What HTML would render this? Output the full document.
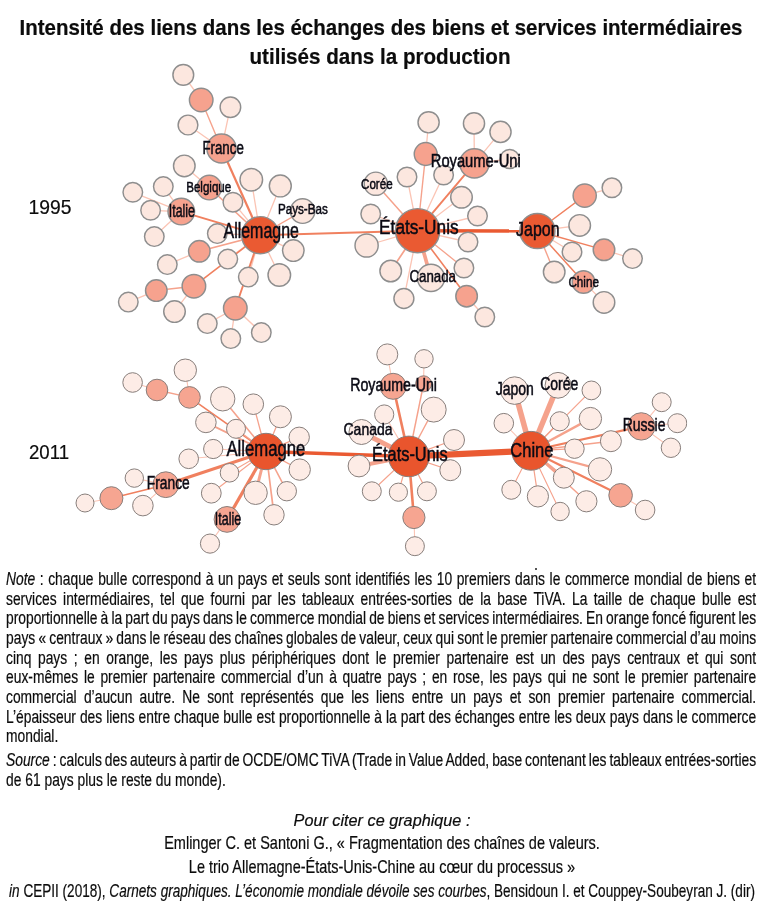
<!DOCTYPE html>
<html lang="fr"><head><meta charset="utf-8"><title>Intensité des liens</title>
<style>
html,body{margin:0;padding:0;background:#fff}
#p{position:relative;width:767px;height:913px;overflow:hidden;background:#fff;font-family:"Liberation Sans",sans-serif;color:#0c0c0c;-webkit-text-stroke:0.2px #0c0c0c}
.l{position:absolute;white-space:nowrap;transform-origin:0 0}
.c{position:absolute;white-space:nowrap;transform-origin:50% 0;text-align:center}
</style></head><body><div id="p">
<svg width="767" height="913" viewBox="0 0 767 913" style="position:absolute;left:0;top:0;filter:blur(0.4px)">
<g>
<line x1="183.3" y1="74.89999999999999" x2="201.20000000000002" y2="100.0" stroke="#fbc4b4" stroke-width="1.3"/>
<line x1="201.20000000000002" y1="100.0" x2="221.5" y2="148.5" stroke="#f5a28c" stroke-width="1.4"/>
<line x1="230.4" y1="107.19999999999999" x2="221.5" y2="148.5" stroke="#fbc4b4" stroke-width="1.3"/>
<line x1="188.0" y1="125.0" x2="221.5" y2="148.5" stroke="#fbc4b4" stroke-width="1.3"/>
<line x1="221.5" y1="148.5" x2="260.3" y2="235.2" stroke="#f0805f" stroke-width="2.2"/>
<line x1="184.3" y1="165.9" x2="209.3" y2="187.6" stroke="#fbc4b4" stroke-width="1.3"/>
<line x1="209.3" y1="187.6" x2="260.3" y2="235.2" stroke="#f5a28c" stroke-width="1.5"/>
<line x1="251.3" y1="179.79999999999998" x2="260.3" y2="235.2" stroke="#fbc4b4" stroke-width="1.3"/>
<line x1="280.3" y1="185.9" x2="260.3" y2="235.2" stroke="#fbc4b4" stroke-width="1.3"/>
<line x1="132.8" y1="192.29999999999998" x2="181.3" y2="211.6" stroke="#fbc4b4" stroke-width="1.3"/>
<line x1="163.3" y1="186.6" x2="181.3" y2="211.6" stroke="#fbc4b4" stroke-width="1.3"/>
<line x1="150.60000000000002" y1="210.29999999999998" x2="181.3" y2="211.6" stroke="#fbc4b4" stroke-width="1.3"/>
<line x1="154.3" y1="236.6" x2="181.3" y2="211.6" stroke="#fbc4b4" stroke-width="1.3"/>
<line x1="181.3" y1="211.6" x2="260.3" y2="235.2" stroke="#f0805f" stroke-width="1.8"/>
<line x1="232.9" y1="202.2" x2="260.3" y2="235.2" stroke="#fbc4b4" stroke-width="1.3"/>
<line x1="302.6" y1="211.1" x2="260.3" y2="235.2" stroke="#f5a28c" stroke-width="1.3"/>
<line x1="217.3" y1="233.6" x2="260.3" y2="235.2" stroke="#fbc4b4" stroke-width="1.3"/>
<line x1="199.3" y1="251.29999999999998" x2="260.3" y2="235.2" stroke="#f5a28c" stroke-width="1.6"/>
<line x1="167.3" y1="264.6" x2="199.3" y2="251.29999999999998" stroke="#fbc4b4" stroke-width="1.3"/>
<line x1="293.3" y1="250.6" x2="260.3" y2="235.2" stroke="#fbc4b4" stroke-width="1.3"/>
<line x1="227.8" y1="259.1" x2="260.3" y2="235.2" stroke="#fbc4b4" stroke-width="1.3"/>
<line x1="193.9" y1="286.20000000000005" x2="260.3" y2="235.2" stroke="#f0805f" stroke-width="1.6"/>
<line x1="248.3" y1="277.1" x2="260.3" y2="235.2" stroke="#fbc4b4" stroke-width="1.3"/>
<line x1="279.3" y1="275.0" x2="260.3" y2="235.2" stroke="#fbc4b4" stroke-width="1.3"/>
<line x1="235.3" y1="308.20000000000005" x2="260.3" y2="235.2" stroke="#f0805f" stroke-width="1.9"/>
<line x1="156.3" y1="290.6" x2="193.9" y2="286.20000000000005" stroke="#f5a28c" stroke-width="1.5"/>
<line x1="128.3" y1="302.1" x2="156.3" y2="290.6" stroke="#fbc4b4" stroke-width="1.3"/>
<line x1="174.5" y1="311.6" x2="193.9" y2="286.20000000000005" stroke="#fbc4b4" stroke-width="1.3"/>
<line x1="207.3" y1="323.6" x2="235.3" y2="308.20000000000005" stroke="#fbc4b4" stroke-width="1.3"/>
<line x1="261.3" y1="332.6" x2="235.3" y2="308.20000000000005" stroke="#fbc4b4" stroke-width="1.3"/>
<line x1="230.8" y1="338.6" x2="235.3" y2="308.20000000000005" stroke="#fbc4b4" stroke-width="1.3"/>
<line x1="428.6" y1="122.3" x2="425.7" y2="154" stroke="#fbc4b4" stroke-width="1.3"/>
<line x1="425.7" y1="154" x2="417.6" y2="230.7" stroke="#f5a28c" stroke-width="1.4"/>
<line x1="474" y1="123.4" x2="474.4" y2="163.4" stroke="#fbc4b4" stroke-width="1.3"/>
<line x1="500.5" y1="131.9" x2="474.4" y2="163.4" stroke="#fbc4b4" stroke-width="1.3"/>
<line x1="509.7" y1="159" x2="474.4" y2="163.4" stroke="#fbc4b4" stroke-width="1.3"/>
<line x1="474.4" y1="163.4" x2="417.6" y2="230.7" stroke="#f0805f" stroke-width="1.9"/>
<line x1="407" y1="177" x2="417.6" y2="230.7" stroke="#fbc4b4" stroke-width="1.3"/>
<line x1="443.6" y1="175" x2="417.6" y2="230.7" stroke="#fbc4b4" stroke-width="1.3"/>
<line x1="375.8" y1="183.7" x2="417.6" y2="230.7" stroke="#f5a28c" stroke-width="1.5"/>
<line x1="461.5" y1="197.3" x2="417.6" y2="230.7" stroke="#fbc4b4" stroke-width="1.3"/>
<line x1="370.7" y1="214" x2="417.6" y2="230.7" stroke="#fbc4b4" stroke-width="1.3"/>
<line x1="477.5" y1="216" x2="417.6" y2="230.7" stroke="#fbc4b4" stroke-width="1.3"/>
<line x1="366.6" y1="245.5" x2="417.6" y2="230.7" stroke="#fbc4b4" stroke-width="1.3"/>
<line x1="468" y1="242" x2="417.6" y2="230.7" stroke="#fbc4b4" stroke-width="1.3"/>
<line x1="390.7" y1="271" x2="417.6" y2="230.7" stroke="#f5a28c" stroke-width="1.7"/>
<line x1="431" y1="277.9" x2="417.6" y2="230.7" stroke="#f5a28c" stroke-width="3.7"/>
<line x1="463.9" y1="268" x2="417.6" y2="230.7" stroke="#f5a28c" stroke-width="1.3"/>
<line x1="403.9" y1="298.5" x2="417.6" y2="230.7" stroke="#fbc4b4" stroke-width="1.3"/>
<line x1="466.6" y1="296.2" x2="417.6" y2="230.7" stroke="#f0805f" stroke-width="1.6"/>
<line x1="484.8" y1="317" x2="466.6" y2="296.2" stroke="#fbc4b4" stroke-width="1.3"/>
<line x1="260.3" y1="235.2" x2="417.6" y2="230.7" stroke="#f0805f" stroke-width="1.9"/>
<line x1="417.6" y1="230.7" x2="537.4" y2="231" stroke="#ea5a32" stroke-width="3.4"/>
<line x1="584.7" y1="195.6" x2="537.4" y2="231" stroke="#f0805f" stroke-width="1.4"/>
<line x1="611.9" y1="187.8" x2="584.7" y2="195.6" stroke="#fbc4b4" stroke-width="1.3"/>
<line x1="579.7" y1="225.4" x2="537.4" y2="231" stroke="#fbc4b4" stroke-width="1.3"/>
<line x1="604" y1="249.8" x2="537.4" y2="231" stroke="#f0805f" stroke-width="1.4"/>
<line x1="632.5" y1="258.6" x2="604" y2="249.8" stroke="#fbc4b4" stroke-width="1.3"/>
<line x1="572" y1="252" x2="537.4" y2="231" stroke="#fbc4b4" stroke-width="1.3"/>
<line x1="554.2" y1="272" x2="537.4" y2="231" stroke="#f5a28c" stroke-width="1.4"/>
<line x1="583.5" y1="282" x2="537.4" y2="231" stroke="#f0805f" stroke-width="1.5"/>
<line x1="604" y1="302.4" x2="583.5" y2="282" stroke="#fbc4b4" stroke-width="1.3"/>
<line x1="185.3" y1="370.2" x2="189.5" y2="397.4" stroke="#fbc4b4" stroke-width="1.1"/>
<line x1="132.6" y1="382.5" x2="157" y2="390" stroke="#fbc4b4" stroke-width="1.1"/>
<line x1="157" y1="390" x2="189.5" y2="397.4" stroke="#f5a28c" stroke-width="1.4"/>
<line x1="189.5" y1="397.4" x2="266" y2="451.5" stroke="#f0805f" stroke-width="1.6"/>
<line x1="222.7" y1="398.8" x2="266" y2="451.5" stroke="#f5a28c" stroke-width="1.6"/>
<line x1="253.3" y1="404.2" x2="266" y2="451.5" stroke="#f5a28c" stroke-width="1.3"/>
<line x1="280.4" y1="416.8" x2="266" y2="451.5" stroke="#f5a28c" stroke-width="1.3"/>
<line x1="205.9" y1="422.4" x2="266" y2="451.5" stroke="#f5a28c" stroke-width="1.8"/>
<line x1="236" y1="428.8" x2="266" y2="451.5" stroke="#f5a28c" stroke-width="1.3"/>
<line x1="299.2" y1="437.3" x2="266" y2="451.5" stroke="#f5a28c" stroke-width="1.3"/>
<line x1="213.2" y1="449" x2="266" y2="451.5" stroke="#fbc4b4" stroke-width="1.1"/>
<line x1="188.7" y1="458.8" x2="266" y2="451.5" stroke="#fbc4b4" stroke-width="1.1"/>
<line x1="299.7" y1="469.6" x2="266" y2="451.5" stroke="#f5a28c" stroke-width="1.3"/>
<line x1="229.5" y1="472.8" x2="266" y2="451.5" stroke="#f5a28c" stroke-width="1.2"/>
<line x1="165.8" y1="484.7" x2="266" y2="451.5" stroke="#f0805f" stroke-width="3.2"/>
<line x1="134.3" y1="478.1" x2="165.8" y2="484.7" stroke="#fbc4b4" stroke-width="1.1"/>
<line x1="111.4" y1="498.2" x2="165.8" y2="484.7" stroke="#f0805f" stroke-width="1.6"/>
<line x1="85" y1="503" x2="111.4" y2="498.2" stroke="#fbc4b4" stroke-width="1.1"/>
<line x1="142.9" y1="505.6" x2="165.8" y2="484.7" stroke="#fbc4b4" stroke-width="1.1"/>
<line x1="211.3" y1="493.2" x2="266" y2="451.5" stroke="#f5a28c" stroke-width="1.2"/>
<line x1="255.6" y1="492.8" x2="266" y2="451.5" stroke="#f5a28c" stroke-width="3.0"/>
<line x1="286.8" y1="491.2" x2="266" y2="451.5" stroke="#f5a28c" stroke-width="1.6"/>
<line x1="274" y1="514.8" x2="266" y2="451.5" stroke="#f5a28c" stroke-width="1.7"/>
<line x1="227" y1="519.4" x2="266" y2="451.5" stroke="#f0805f" stroke-width="3.2"/>
<line x1="210" y1="543.6" x2="227" y2="519.4" stroke="#fbc4b4" stroke-width="1.1"/>
<line x1="387.3" y1="354.4" x2="393.1" y2="386.3" stroke="#fbc4b4" stroke-width="1.1"/>
<line x1="424" y1="358.8" x2="423.6" y2="383.8" stroke="#fbc4b4" stroke-width="1.1"/>
<line x1="393.1" y1="386.3" x2="408.8" y2="456.4" stroke="#f0805f" stroke-width="2.6"/>
<line x1="423.6" y1="383.8" x2="408.8" y2="456.4" stroke="#f5a28c" stroke-width="1.5"/>
<line x1="433.7" y1="409.6" x2="408.8" y2="456.4" stroke="#f5a28c" stroke-width="1.3"/>
<line x1="384.2" y1="414.5" x2="408.8" y2="456.4" stroke="#fbc4b4" stroke-width="1.1"/>
<line x1="361.5" y1="432" x2="408.8" y2="456.4" stroke="#f5a28c" stroke-width="5.0"/>
<line x1="454" y1="440" x2="408.8" y2="456.4" stroke="#f5a28c" stroke-width="1.2"/>
<line x1="359" y1="466" x2="408.8" y2="456.4" stroke="#f5a28c" stroke-width="4.0"/>
<line x1="450.3" y1="470.2" x2="408.8" y2="456.4" stroke="#f5a28c" stroke-width="1.2"/>
<line x1="371.8" y1="491.3" x2="408.8" y2="456.4" stroke="#f5a28c" stroke-width="1.2"/>
<line x1="398.4" y1="492.2" x2="408.8" y2="456.4" stroke="#f5a28c" stroke-width="1.2"/>
<line x1="426.9" y1="491.3" x2="408.8" y2="456.4" stroke="#f5a28c" stroke-width="1.2"/>
<line x1="413.9" y1="517.5" x2="408.8" y2="456.4" stroke="#f0805f" stroke-width="2.6"/>
<line x1="414.9" y1="546.2" x2="413.9" y2="517.5" stroke="#fbc4b4" stroke-width="1.1"/>
<line x1="266" y1="451.5" x2="408.8" y2="456.4" stroke="#ea5a32" stroke-width="3.5"/>
<line x1="514.6" y1="390.6" x2="531.1" y2="450.8" stroke="#f5a28c" stroke-width="5.5"/>
<line x1="558" y1="385.3" x2="531.1" y2="450.8" stroke="#f5a28c" stroke-width="5.5"/>
<line x1="591.4" y1="390.4" x2="531.1" y2="450.8" stroke="#f5a28c" stroke-width="1.2"/>
<line x1="661.7" y1="402.2" x2="641.3" y2="426.4" stroke="#fbc4b4" stroke-width="1.1"/>
<line x1="503.8" y1="423.2" x2="531.1" y2="450.8" stroke="#fbc4b4" stroke-width="1.1"/>
<line x1="559.7" y1="421.3" x2="531.1" y2="450.8" stroke="#f5a28c" stroke-width="1.2"/>
<line x1="590.4" y1="418.6" x2="531.1" y2="450.8" stroke="#f5a28c" stroke-width="2.4"/>
<line x1="641.3" y1="426.4" x2="531.1" y2="450.8" stroke="#f0805f" stroke-width="2.1"/>
<line x1="677.3" y1="423.2" x2="641.3" y2="426.4" stroke="#fbc4b4" stroke-width="1.1"/>
<line x1="574.5" y1="448.7" x2="531.1" y2="450.8" stroke="#f5a28c" stroke-width="1.2"/>
<line x1="610.9" y1="441.2" x2="531.1" y2="450.8" stroke="#f5a28c" stroke-width="1.6"/>
<line x1="670.9" y1="447.8" x2="641.3" y2="426.4" stroke="#fbc4b4" stroke-width="1.1"/>
<line x1="600" y1="469.4" x2="531.1" y2="450.8" stroke="#f5a28c" stroke-width="2.2"/>
<line x1="563.8" y1="477.7" x2="531.1" y2="450.8" stroke="#f5a28c" stroke-width="3.0"/>
<line x1="511.3" y1="489.8" x2="531.1" y2="450.8" stroke="#f5a28c" stroke-width="1.1"/>
<line x1="537.9" y1="496.4" x2="531.1" y2="450.8" stroke="#f5a28c" stroke-width="1.2"/>
<line x1="586.4" y1="501.3" x2="531.1" y2="450.8" stroke="#f5a28c" stroke-width="1.5"/>
<line x1="620.6" y1="495.3" x2="531.1" y2="450.8" stroke="#f0805f" stroke-width="2.2"/>
<line x1="560.1" y1="511.5" x2="531.1" y2="450.8" stroke="#f5a28c" stroke-width="1.1"/>
<line x1="645.1" y1="510" x2="620.6" y2="495.3" stroke="#fbc4b4" stroke-width="1.1"/>
<line x1="408.8" y1="456.4" x2="531.1" y2="450.8" stroke="#ea5a32" stroke-width="6.2"/>
</g>
<g stroke="#8e8e8e" stroke-width="1.45">
<circle cx="183.3" cy="74.89999999999999" r="10.38" fill="#fce7df"/>
<circle cx="201.20000000000002" cy="100.0" r="11.78" fill="#f6a28e"/>
<circle cx="230.4" cy="107.19999999999999" r="10.28" fill="#fce7df"/>
<circle cx="188.0" cy="125.0" r="9.88" fill="#fce7df"/>
<circle cx="221.5" cy="148.5" r="14.58" fill="#f6a28e"/>
<circle cx="184.3" cy="165.9" r="10.78" fill="#fce7df"/>
<circle cx="209.3" cy="187.6" r="12.28" fill="#f6a28e"/>
<circle cx="251.3" cy="179.79999999999998" r="11.28" fill="#fce7df"/>
<circle cx="280.3" cy="185.9" r="10.97" fill="#fce7df"/>
<circle cx="132.8" cy="192.29999999999998" r="9.78" fill="#fce7df"/>
<circle cx="163.3" cy="186.6" r="9.78" fill="#fce7df"/>
<circle cx="232.9" cy="202.2" r="9.78" fill="#fce7df"/>
<circle cx="302.6" cy="211.1" r="12.28" fill="#fce7df"/>
<circle cx="150.60000000000002" cy="210.29999999999998" r="9.78" fill="#fce7df"/>
<circle cx="181.3" cy="211.6" r="13.28" fill="#f6a28e"/>
<circle cx="154.3" cy="236.6" r="9.78" fill="#fce7df"/>
<circle cx="217.3" cy="233.6" r="9.78" fill="#fce7df"/>
<circle cx="260.3" cy="235.2" r="18.57" fill="#ea5a32"/>
<circle cx="199.3" cy="251.29999999999998" r="10.78" fill="#f6a28e"/>
<circle cx="293.3" cy="250.6" r="10.78" fill="#fce7df"/>
<circle cx="227.8" cy="259.1" r="9.78" fill="#fce7df"/>
<circle cx="167.3" cy="264.6" r="9.78" fill="#fce7df"/>
<circle cx="248.3" cy="277.1" r="9.78" fill="#fce7df"/>
<circle cx="279.3" cy="275.0" r="11.28" fill="#fce7df"/>
<circle cx="193.9" cy="286.20000000000005" r="11.78" fill="#f6a28e"/>
<circle cx="156.3" cy="290.6" r="10.78" fill="#f6a28e"/>
<circle cx="128.3" cy="302.1" r="9.78" fill="#fce7df"/>
<circle cx="174.5" cy="311.6" r="10.78" fill="#fce7df"/>
<circle cx="235.3" cy="308.20000000000005" r="11.78" fill="#f6a28e"/>
<circle cx="207.3" cy="323.6" r="9.78" fill="#fce7df"/>
<circle cx="261.3" cy="332.6" r="9.78" fill="#fce7df"/>
<circle cx="230.8" cy="338.6" r="9.78" fill="#fce7df"/>
<circle cx="428.6" cy="122.3" r="10.58" fill="#fce7df"/>
<circle cx="474" cy="123.4" r="10.58" fill="#fce7df"/>
<circle cx="500.5" cy="131.9" r="10.58" fill="#fce7df"/>
<circle cx="425.7" cy="154" r="11.47" fill="#f6a28e"/>
<circle cx="474.4" cy="163.4" r="14.58" fill="#f6a28e"/>
<circle cx="509.7" cy="159" r="9.58" fill="#fce7df"/>
<circle cx="407" cy="177" r="9.78" fill="#fce7df"/>
<circle cx="443.6" cy="175" r="9.78" fill="#fce7df"/>
<circle cx="375.8" cy="183.7" r="11.58" fill="#fce7df"/>
<circle cx="461.5" cy="197.3" r="10.78" fill="#fce7df"/>
<circle cx="370.7" cy="214" r="9.78" fill="#fce7df"/>
<circle cx="477.5" cy="216" r="9.78" fill="#fce7df"/>
<circle cx="417.6" cy="230.7" r="22.07" fill="#ea5a32"/>
<circle cx="366.6" cy="245.5" r="11.58" fill="#fce7df"/>
<circle cx="468" cy="242" r="9.78" fill="#fce7df"/>
<circle cx="390.7" cy="271" r="10.78" fill="#fce7df"/>
<circle cx="431" cy="277.9" r="13.58" fill="#fce7df"/>
<circle cx="463.9" cy="268" r="9.78" fill="#fce7df"/>
<circle cx="403.9" cy="298.5" r="9.97" fill="#fce7df"/>
<circle cx="466.6" cy="296.2" r="10.78" fill="#f6a28e"/>
<circle cx="484.8" cy="317" r="9.78" fill="#fce7df"/>
<circle cx="537.4" cy="231" r="17.57" fill="#ea5a32"/>
<circle cx="584.7" cy="195.6" r="11.58" fill="#f6a28e"/>
<circle cx="611.9" cy="187.8" r="9.78" fill="#fce7df"/>
<circle cx="579.7" cy="225.4" r="10.78" fill="#fce7df"/>
<circle cx="604" cy="249.8" r="10.78" fill="#f6a28e"/>
<circle cx="632.5" cy="258.6" r="9.78" fill="#fce7df"/>
<circle cx="572" cy="252" r="9.78" fill="#fce7df"/>
<circle cx="554.2" cy="272" r="10.78" fill="#fce7df"/>
<circle cx="583.5" cy="282" r="11.28" fill="#f6a28e"/>
<circle cx="604" cy="302.4" r="10.78" fill="#fce7df"/>
</g>
<g stroke="#877e7b" stroke-width="1.0">
<circle cx="185.3" cy="370.2" r="11.20" fill="#fdece6"/>
<circle cx="132.6" cy="382.5" r="9.80" fill="#fdece6"/>
<circle cx="157" cy="390" r="10.80" fill="#f6a591"/>
<circle cx="189.5" cy="397.4" r="10.80" fill="#f6a591"/>
<circle cx="222.7" cy="398.8" r="12.20" fill="#fdece6"/>
<circle cx="253.3" cy="404.2" r="10.30" fill="#fdece6"/>
<circle cx="280.4" cy="416.8" r="11.00" fill="#fdece6"/>
<circle cx="205.9" cy="422.4" r="10.30" fill="#fdece6"/>
<circle cx="236" cy="428.8" r="9.50" fill="#fdece6"/>
<circle cx="299.2" cy="437.3" r="10.20" fill="#fdece6"/>
<circle cx="266" cy="451.5" r="18.20" fill="#e9552d"/>
<circle cx="213.2" cy="449" r="9.60" fill="#fdece6"/>
<circle cx="188.7" cy="458.8" r="9.80" fill="#fdece6"/>
<circle cx="299.7" cy="469.6" r="10.70" fill="#fdece6"/>
<circle cx="229.5" cy="472.8" r="9.30" fill="#fdece6"/>
<circle cx="134.3" cy="478.1" r="9.20" fill="#fdece6"/>
<circle cx="165.8" cy="484.7" r="12.90" fill="#f6a591"/>
<circle cx="211.3" cy="493.2" r="9.90" fill="#fdece6"/>
<circle cx="255.6" cy="492.8" r="11.70" fill="#fdece6"/>
<circle cx="286.8" cy="491.2" r="9.70" fill="#fdece6"/>
<circle cx="111.4" cy="498.2" r="11.50" fill="#f6a591"/>
<circle cx="85" cy="503" r="9.00" fill="#fdece6"/>
<circle cx="142.9" cy="505.6" r="10.30" fill="#fdece6"/>
<circle cx="274" cy="514.8" r="10.20" fill="#fdece6"/>
<circle cx="227" cy="519.4" r="12.90" fill="#f6a591"/>
<circle cx="210" cy="543.6" r="9.60" fill="#fdece6"/>
<circle cx="387.3" cy="354.4" r="10.50" fill="#fdece6"/>
<circle cx="424" cy="358.8" r="9.20" fill="#fdece6"/>
<circle cx="393.1" cy="386.3" r="13.00" fill="#f6a591"/>
<circle cx="423.6" cy="383.8" r="8.00" fill="#f6a591"/>
<circle cx="433.7" cy="409.6" r="12.50" fill="#fdece6"/>
<circle cx="384.2" cy="414.5" r="9.60" fill="#fdece6"/>
<circle cx="361.5" cy="432" r="12.50" fill="#fdece6"/>
<circle cx="454" cy="440" r="10.50" fill="#fdece6"/>
<circle cx="408.8" cy="456.4" r="20.30" fill="#e9552d"/>
<circle cx="359" cy="466" r="10.90" fill="#fdece6"/>
<circle cx="450.3" cy="470.2" r="10.50" fill="#fdece6"/>
<circle cx="371.8" cy="491.3" r="9.50" fill="#fdece6"/>
<circle cx="398.4" cy="492.2" r="9.10" fill="#fdece6"/>
<circle cx="426.9" cy="491.3" r="9.50" fill="#fdece6"/>
<circle cx="413.9" cy="517.5" r="11.10" fill="#f6a591"/>
<circle cx="414.9" cy="546.2" r="9.50" fill="#fdece6"/>
<circle cx="514.6" cy="390.6" r="13.80" fill="#fdece6"/>
<circle cx="558" cy="385.3" r="12.90" fill="#fdece6"/>
<circle cx="591.4" cy="390.4" r="9.40" fill="#fdece6"/>
<circle cx="661.7" cy="402.2" r="9.50" fill="#fdece6"/>
<circle cx="503.8" cy="423.2" r="9.80" fill="#fdece6"/>
<circle cx="559.7" cy="421.3" r="9.60" fill="#fdece6"/>
<circle cx="590.4" cy="418.6" r="11.20" fill="#fdece6"/>
<circle cx="641.3" cy="426.4" r="13.70" fill="#f6a591"/>
<circle cx="677.3" cy="423.2" r="9.50" fill="#fdece6"/>
<circle cx="531.1" cy="450.8" r="19.40" fill="#e9552d"/>
<circle cx="574.5" cy="448.7" r="9.70" fill="#fdece6"/>
<circle cx="610.9" cy="441.2" r="10.50" fill="#fdece6"/>
<circle cx="670.9" cy="447.8" r="9.70" fill="#fdece6"/>
<circle cx="600" cy="469.4" r="11.70" fill="#fdece6"/>
<circle cx="563.8" cy="477.7" r="10.50" fill="#fdece6"/>
<circle cx="511.3" cy="489.8" r="9.50" fill="#fdece6"/>
<circle cx="537.9" cy="496.4" r="10.60" fill="#fdece6"/>
<circle cx="586.4" cy="501.3" r="10.60" fill="#fdece6"/>
<circle cx="620.6" cy="495.3" r="11.80" fill="#f6a591"/>
<circle cx="560.1" cy="511.5" r="9.20" fill="#fdece6"/>
<circle cx="645.1" cy="510" r="9.80" fill="#fdece6"/>
</g>
<rect x="687.2" y="380" width="14" height="80" fill="#fff"/>
<g font-family="Liberation Sans, sans-serif" fill="#0a0a14" stroke="#0a0a14" stroke-width="0.5">
<text x="202.4" y="153.6" font-size="17.60" textLength="41.4" lengthAdjust="spacingAndGlyphs">France</text>
<text x="186.2" y="192.3" font-size="14.39" textLength="45.0" lengthAdjust="spacingAndGlyphs">Belgique</text>
<text x="168.8" y="216.7" font-size="17.46" textLength="26.2" lengthAdjust="spacingAndGlyphs">Italie</text>
<text x="278.0" y="213.9" font-size="14.53" textLength="49.8" lengthAdjust="spacingAndGlyphs">Pays-Bas</text>
<text x="223.5" y="238.3" font-size="21.37" textLength="75.4" lengthAdjust="spacingAndGlyphs">Allemagne</text>
<text x="430.8" y="166.6" font-size="17.46" textLength="89.9" lengthAdjust="spacingAndGlyphs">Royaume-Uni</text>
<text x="361.0" y="189.0" font-size="14.94" textLength="31.6" lengthAdjust="spacingAndGlyphs">Corée</text>
<text x="379.1" y="234.4" font-size="20.53" textLength="79.5" lengthAdjust="spacingAndGlyphs">États-Unis</text>
<text x="516.1" y="235.9" font-size="20.67" textLength="43.4" lengthAdjust="spacingAndGlyphs">Japon</text>
<text x="409.4" y="281.7" font-size="16.34" textLength="46.6" lengthAdjust="spacingAndGlyphs">Canada</text>
<text x="568.4" y="287.1" font-size="14.66" textLength="30.5" lengthAdjust="spacingAndGlyphs">Chine</text>
<text x="226.4" y="456.2" font-size="21.23" textLength="78.9" lengthAdjust="spacingAndGlyphs">Allemagne</text>
<text x="146.8" y="488.7" font-size="17.88" textLength="43.0" lengthAdjust="spacingAndGlyphs">France</text>
<text x="214.8" y="524.6" font-size="18.16" textLength="26.4" lengthAdjust="spacingAndGlyphs">Italie</text>
<text x="350.2" y="391.4" font-size="17.46" textLength="86.8" lengthAdjust="spacingAndGlyphs">Royaume-Uni</text>
<text x="343.5" y="434.7" font-size="17.18" textLength="49.1" lengthAdjust="spacingAndGlyphs">Canada</text>
<text x="372.1" y="460.7" font-size="19.69" textLength="75.5" lengthAdjust="spacingAndGlyphs">États-Unis</text>
<text x="495.8" y="395.2" font-size="17.46" textLength="38.1" lengthAdjust="spacingAndGlyphs">Japon</text>
<text x="540.2" y="390.3" font-size="17.60" textLength="38.1" lengthAdjust="spacingAndGlyphs">Corée</text>
<text x="510.3" y="456.9" font-size="21.09" textLength="43.2" lengthAdjust="spacingAndGlyphs">Chine</text>
<text x="622.7" y="430.8" font-size="18.02" textLength="42.8" lengthAdjust="spacingAndGlyphs">Russie</text>
</g>
</svg>
<div class="l" style="left:6.3px;top:568.87px;font-size:17.5px;line-height:20.12px;transform:scaleX(0.79);word-spacing:0.930px;"><i>Note</i> : chaque bulle correspond à un pays et seuls sont identifiés les 10 premiers dans le commerce mondial de biens et</div>
<div class="l" style="left:6.3px;top:588.57px;font-size:17.5px;line-height:20.12px;transform:scaleX(0.79);word-spacing:3.211px;">services intermédiaires, tel que fourni par les tableaux entrées-sorties de la base TiVA. La taille de chaque bulle est</div>
<div class="l" style="left:6.3px;top:608.27px;font-size:17.5px;line-height:20.12px;transform:scaleX(0.79);word-spacing:-0.917px;">proportionnelle à la part du pays dans le commerce mondial de biens et services intermédiaires. En orange foncé figurent les</div>
<div class="l" style="left:6.3px;top:627.97px;font-size:17.5px;line-height:20.12px;transform:scaleX(0.79);word-spacing:-0.823px;">pays « centraux » dans le réseau des chaînes globales de valeur, ceux qui sont le premier partenaire commercial d’au moins</div>
<div class="l" style="left:6.3px;top:647.67px;font-size:17.5px;line-height:20.12px;transform:scaleX(0.79);word-spacing:3.504px;">cinq pays ; en orange, les pays plus périphériques dont le premier partenaire est un des pays centraux et qui sont</div>
<div class="l" style="left:6.3px;top:667.37px;font-size:17.5px;line-height:20.12px;transform:scaleX(0.79);word-spacing:2.363px;">eux-mêmes le premier partenaire commercial d’un à quatre pays ; en rose, les pays qui ne sont le premier partenaire</div>
<div class="l" style="left:6.3px;top:687.07px;font-size:17.5px;line-height:20.12px;transform:scaleX(0.79);word-spacing:4.326px;">commercial d’aucun autre. Ne sont représentés que les liens entre un pays et son premier partenaire commercial.</div>
<div class="l" style="left:6.3px;top:706.77px;font-size:17.5px;line-height:20.12px;transform:scaleX(0.79);word-spacing:0.155px;">L’épaisseur des liens entre chaque bulle est proportionnelle à la part des échanges entre les deux pays dans le commerce</div>
<div class="l" style="left:6.3px;top:726.47px;font-size:17.5px;line-height:20.12px;transform:scaleX(0.79);">mondial.</div>
<div class="l" style="left:6.3px;top:749.57px;font-size:17.5px;line-height:20.12px;transform:scaleX(0.79);word-spacing:-1.110px;"><i>Source</i> : calculs des auteurs à partir de OCDE/OMC TiVA (Trade in Value Added, base contenant les tableaux entrées-sorties</div>
<div class="l" style="left:6.3px;top:769.57px;font-size:17.5px;line-height:20.12px;transform:scaleX(0.79);">de 61 pays plus le reste du monde).</div>
<div class="c" style="left:-119.50px;width:1000px;top:14.91px;font-size:21.8px;line-height:25.07px;transform:scaleX(0.9397)"><b>Intensité des liens dans les échanges des biens et services intermédiaires</b></div>
<div class="c" style="left:-120.00px;width:1000px;top:43.91px;font-size:21.8px;line-height:25.07px;transform:scaleX(0.9451)"><b>utilisés dans la production</b></div>
<div class="c" style="left:-118.20px;width:1000px;top:810.55px;font-size:17.2px;line-height:19.78px;transform:scaleX(0.9445)"><i>Pour citer ce graphique :</i></div>
<div class="c" style="left:-118.30px;width:1000px;top:832.93px;font-size:18.2px;line-height:20.93px;transform:scaleX(0.7981)">Emlinger C. et Santoni G., « Fragmentation des chaînes de valeurs.</div>
<div class="c" style="left:-118.30px;width:1000px;top:857.23px;font-size:18.2px;line-height:20.93px;transform:scaleX(0.7962)">Le trio Allemagne-États-Unis-Chine au cœur du processus »</div>
<div class="c" style="left:-118.20px;width:1000px;top:881.23px;font-size:18.2px;line-height:20.93px;transform:scaleX(0.7460)"><i>in</i> CEPII (2018), <i>Carnets graphiques. L’économie mondiale dévoile ses courbes</i>, Bensidoun I. et Couppey-Soubeyran J. (dir)</div>
<div class="c" style="left:-449.60px;width:1000px;top:195.50px;font-size:20.4px;line-height:23.46px;transform:scaleX(0.9475)">1995</div>
<div class="c" style="left:-450.60px;width:1000px;top:440.13px;font-size:20.8px;line-height:23.92px;transform:scaleX(0.8968)">2011</div>
<div style="position:absolute;left:535px;top:568.4px;width:1.6px;height:1.6px;border-radius:50%;background:#333"></div>
</div></body></html>
